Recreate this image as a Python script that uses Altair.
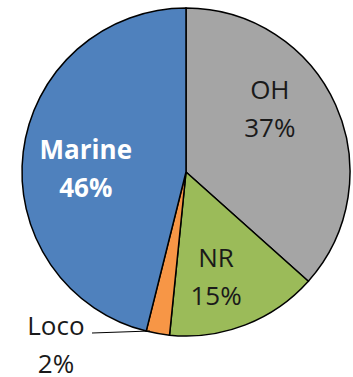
import altair as alt
import pandas as pd

categories = ["OH", "NR", "Loco", "Marine"]
shares = [36.6, 15.0, 2.3, 46.1]
colors = ["#A5A5A5", "#9BBB59", "#F79646", "#4F81BD"]

df = pd.DataFrame({
    "cat": categories,
    "share": shares,
    "idx": list(range(len(categories))),
})
df["label"] = [f"{c}\n{round(v):d}%" for c, v in zip(categories, shares)]
TOTAL = sum(shares)

CX, CY, R = 186, 172, 164

pie = alt.Chart(df).mark_arc(outerRadius=R, stroke="black", strokeWidth=1.5).encode(
    theta=alt.Theta("share:Q", stack=True, scale=alt.Scale(domain=[0, TOTAL])),
    order=alt.Order("idx:Q"),
    color=alt.Color("cat:N", scale=alt.Scale(domain=categories, range=colors), legend=None),
    x=alt.value(CX),
    y=alt.value(CY),
)

label_style = {
    "OH": dict(dx=-12, dy=-38, color="#1a1a1a", weight="normal"),
    "NR": dict(dx=-8, dy=-11, color="#1a1a1a", weight="normal"),
    "Loco": dict(dx=-112, dy=52, color="#1a1a1a", weight="normal"),
    "Marine": dict(dx=4, dy=-8, color="white", weight="bold"),
}

text_base = alt.Chart(df).transform_window(
    cum="sum(share)", sort=[alt.SortField("idx")]
).transform_calculate(mid="datum.cum - datum.share / 2")

layers = [pie]
for c in categories:
    s = label_style[c]
    layers.append(
        text_base.mark_text(
            radius=105, dx=s["dx"], dy=s["dy"], font="Open Sans", fontSize=26,
            fontWeight=s["weight"], color=s["color"], lineBreak="\n", lineHeight=38,
            align="center", baseline="middle",
        ).encode(
            theta=alt.Theta("mid:Q", stack=None, scale=alt.Scale(domain=[0, TOTAL])),
            text="label:N",
            x=alt.value(CX),
            y=alt.value(CY),
        ).transform_filter(alt.datum.cat == c)
    )

leader = alt.Chart(df.head(1)).mark_rule(color="black", strokeWidth=1).encode(
    x=alt.value(92), x2=alt.value(150), y=alt.value(333), y2=alt.value(331)
)
layers.append(leader)

chart = alt.layer(*layers).resolve_scale(theta="independent").properties(
    width=353, height=377, autosize=alt.AutoSizeParams(type="none"), padding=0
).configure_view(stroke=None)

chart.save("out.html", embed_options={"renderer": "svg", "actions": False})
